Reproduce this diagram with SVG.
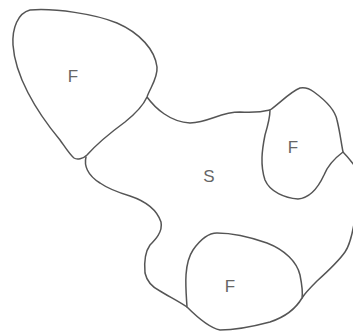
<svg xmlns="http://www.w3.org/2000/svg" width="353" height="332" viewBox="0 0 353 332">
<style>
.b{fill:none;stroke:#555;stroke-width:1.5;stroke-linejoin:round;stroke-linecap:round}
.r{fill:#fff;stroke:#555;stroke-width:1.5;stroke-linejoin:round}
.t{font-family:"Liberation Sans",Arial,sans-serif;font-size:17px;fill:#666;text-anchor:middle}
</style>
<rect width="353" height="332" fill="#fff"/>
<g id="connectors">
<path class="b" d="M147,97 C155,108 170,122 190,123 C210,122 220,112 240,112 C255,113 262,112 270,110"/>
<path class="b" d="M343,152 C347,156 350,160 354,165"/>
<path class="b" d="M354,224 C352,235 350,245 345,252 C338,262 327,272 317,281 C310,288 305,293 302,298"/>
<path class="b" d="M86,157 C84,165 87,175 100,183 C110,190 120,193 130,196 C145,201 157,210 161,222 C163,232 155,240 150,245 C145,252 144,262 145,273 C147,282 152,287 160,291 C170,297 180,302 187,307"/>
</g>
<g id="S">
<text class="t" x="209" y="182">S</text>
</g>
<g id="F1">
<path class="r" d="M147,97 C150,88 158,78 157,67 C155,50 140,33 117,23 C95,14 55,8 30,10 C18,13 12,28 13,45 C15,75 35,110 60,140 C65,147 70,155 74,158 C77,160 83,159 87,155 C95,146 110,133 125,122 C135,114 143,106 147,97 Z"/>
<text class="t" x="73" y="82">F</text>
</g>
<g id="F2">
<path class="r" d="M270,110 C280,103 290,92 300,88 C305,87 310,89 314,92 C325,100 335,110 337,120 C340,132 341,142 343,152 C335,158 328,165 324,175 C318,188 310,198 298,199 C285,198 270,192 265,180 C260,165 262,150 265,135 C268,125 270,117 270,110 Z"/>
<text class="t" x="293" y="153">F</text>
</g>
<g id="F3">
<path class="r" d="M187,307 C186,290 183,265 193,250 C200,240 208,233 217,233 C230,233 250,237 267,243 C285,250 297,262 300,275 C302,285 303,292 302,298 C295,310 285,317 270,322 C255,326 235,330 220,330 C210,328 198,318 187,307 Z"/>
<text class="t" x="230" y="292">F</text>
</g>
</svg>
